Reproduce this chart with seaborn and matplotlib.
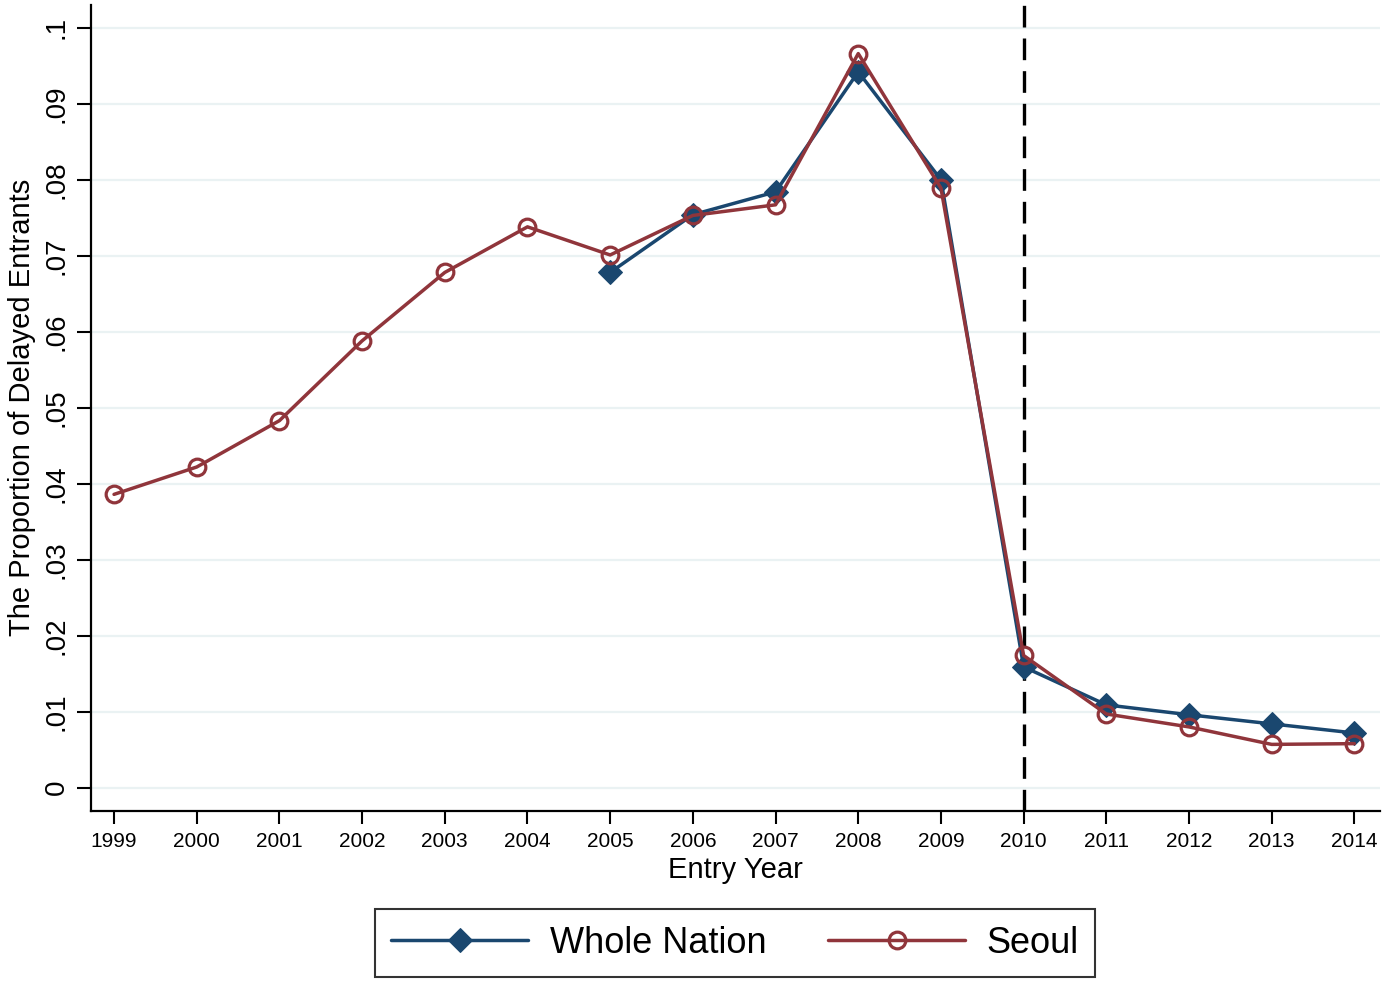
import matplotlib
matplotlib.use("Agg")
import matplotlib.pyplot as plt
from matplotlib.ticker import FixedLocator, FuncFormatter
import pandas as pd
import seaborn as sns

# 값은 그림에서 읽은 추정치
SEOUL_YEARS = list(range(1999, 2015))
SEOUL_VALUES = [0.0386, 0.0422, 0.0483, 0.0588, 0.0678, 0.0738, 0.0701, 0.0753,
                0.0767, 0.0966, 0.0789, 0.0174, 0.0097, 0.0080, 0.0057, 0.0058]
NATION_YEARS = list(range(2005, 2015))
NATION_VALUES = [0.0678, 0.0754, 0.0784, 0.0942, 0.0800, 0.0159, 0.0109,
                 0.0096, 0.0084, 0.0072]
CUTOFF_YEAR = 2010
Y_TICKS = [i / 100 for i in range(0, 11)]

NAVY = "#1a476f"
MAROON = "#90353b"
GRID = "#eaf2f3"

sns.set_theme(style="white")
plt.rcParams["font.family"] = ["Liberation Sans", "DejaVu Sans"]
plt.rcParams["text.color"] = "black"
plt.rcParams["axes.labelcolor"] = "black"
plt.rcParams["xtick.color"] = "black"
plt.rcParams["ytick.color"] = "black"

nation = pd.DataFrame({"year": NATION_YEARS, "value": NATION_VALUES})
seoul = pd.DataFrame({"year": SEOUL_YEARS, "value": SEOUL_VALUES})

fig = plt.figure(figsize=(13.85, 9.82), dpi=100)
ax = fig.add_axes([0.0655, 0.1744, 0.9309, 0.8205])

for y in Y_TICKS:
    ax.axhline(y, color=GRID, lw=1.6, zorder=0)

ax.axvline(CUTOFF_YEAR, color="black", lw=2.4, linestyle=(0, (6.5, 3.3)), zorder=1)

sns.lineplot(data=nation, x="year", y="value", ax=ax, color=NAVY, lw=2.5,
             marker="D", markersize=12, markerfacecolor=NAVY,
             markeredgecolor=NAVY, label="Whole Nation", zorder=3)
sns.lineplot(data=seoul, x="year", y="value", ax=ax, color=MAROON, lw=2.5,
             marker="o", markersize=12, markerfacecolor="none",
             markeredgecolor=MAROON, markeredgewidth=2.3, label="Seoul", zorder=4)

ax.set_xlim(1998.718, 2014.31)
ax.set_ylim(-0.00303, 0.10299)
ax.xaxis.set_major_locator(FixedLocator(SEOUL_YEARS))
ax.yaxis.set_major_locator(FixedLocator(Y_TICKS))


def fmt_prop(v, pos):
    if abs(v) < 1e-9:
        return "0"
    return ("%.2f" % v).rstrip("0").lstrip("0")


ax.yaxis.set_major_formatter(FuncFormatter(fmt_prop))
ax.tick_params(axis="x", labelsize=15, length=9, width=1.5,
               bottom=True, pad=6)
ax.tick_params(axis="y", labelsize=20, length=10, width=1.5,
               left=True, pad=5)
for lab in ax.get_yticklabels():
    lab.set_rotation(90)
    lab.set_va("center")

ax.set_xlabel("Entry Year", fontsize=21, labelpad=4)
ax.set_ylabel("The Proportion of Delayed Entrants", fontsize=21, labelpad=6)

for side in ["top", "right"]:
    ax.spines[side].set_visible(False)
for side in ["left", "bottom"]:
    ax.spines[side].set_color("black")
    ax.spines[side].set_linewidth(1.6)

ax.get_legend().remove()
handles, labels = ax.get_legend_handles_labels()
leg = fig.legend(handles, labels, loc="center", bbox_to_anchor=(0.5307, 0.0397),
                 ncol=2, fontsize=26, frameon=True, fancybox=False,
                 handlelength=3.8, handletextpad=0.6, columnspacing=1.7,
                 borderpad=0.45)
leg.get_frame().set_edgecolor("black")
leg.get_frame().set_linewidth(1.5)

fig.savefig("out.png", dpi=100)
plt.close(fig)
